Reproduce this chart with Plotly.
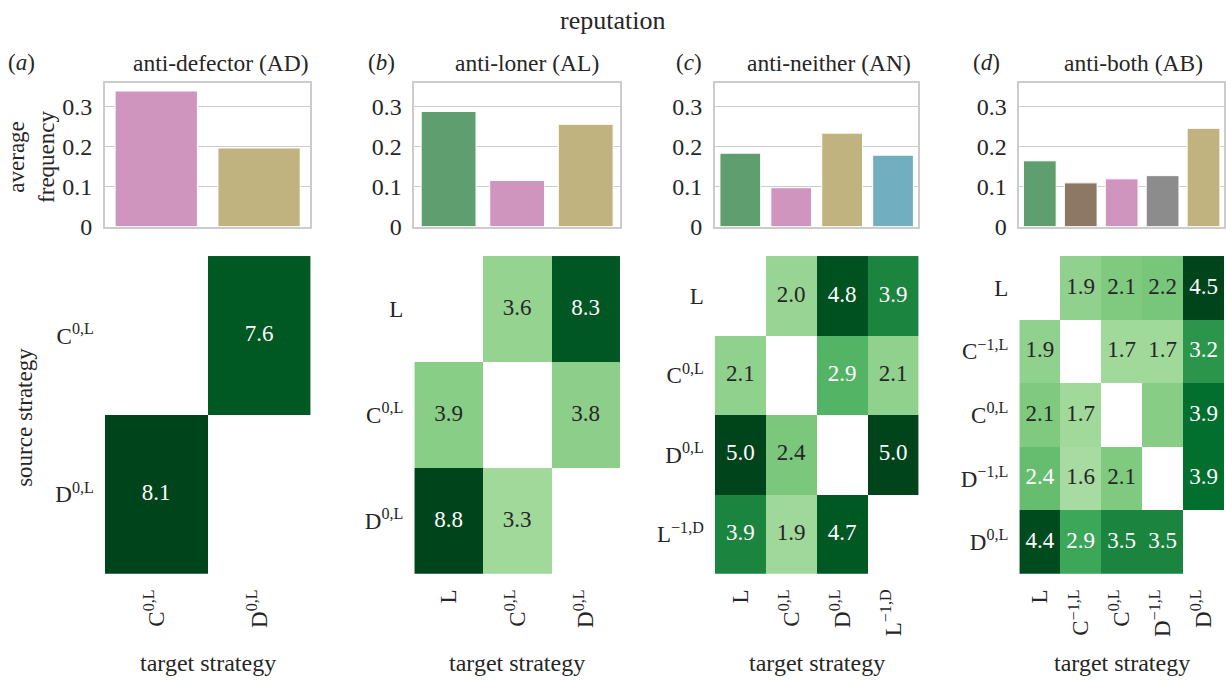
import math
import plotly.graph_objects as go

W, H = 1226, 683

# ---------------- data ----------------
panel_letters = ["a", "b", "c", "d"]
panel_titles = ["anti-defector (AD)", "anti-loner (AL)", "anti-neither (AN)", "anti-both (AB)"]

strat_a = ["C<sup>0,L</sup>", "D<sup>0,L</sup>"]
strat_b = ["L", "C<sup>0,L</sup>", "D<sup>0,L</sup>"]
strat_c = ["L", "C<sup>0,L</sup>", "D<sup>0,L</sup>", "L<sup>\u22121,D</sup>"]
strat_d = ["L", "C<sup>\u22121,L</sup>", "C<sup>0,L</sup>", "D<sup>\u22121,L</sup>", "D<sup>0,L</sup>"]

freq_a = [0.338, 0.196]
freq_b = [0.287, 0.115, 0.255]
freq_c = [0.183, 0.097, 0.233, 0.178]
freq_d = [0.164, 0.109, 0.119, 0.127, 0.245]

N = float("nan")
heat_a = [[N, 7.6],
          [8.1, N]]
heat_b = [[N, 3.6, 8.3],
          [3.9, N, 3.8],
          [8.8, 3.3, N]]
heat_c = [[N, 2.0, 4.8, 3.9],
          [2.1, N, 2.9, 2.1],
          [5.0, 2.4, N, 5.0],
          [3.9, 1.9, 4.7, N]]
heat_d = [[N, 1.9, 2.1, 2.2, 4.5],
          [1.9, N, 1.7, 1.7, 3.2],
          [2.1, 1.7, N, 2.0, 3.9],
          [2.4, 1.6, 2.1, N, 3.9],
          [4.4, 2.9, 3.5, 3.5, N]]
# cells whose number is not printed in the reference (row, col)
hidden_d = [(2, 3)]

strategy_colors = {
    "L": "#5f9e6e",
    "C<sup>\u22121,L</sup>": "#8d7866",
    "C<sup>0,L</sup>": "#d095bf",
    "D<sup>\u22121,L</sup>": "#8c8c8c",
    "D<sup>0,L</sup>": "#c1b37f",
    "L<sup>\u22121,D</sup>": "#71aec0",
}

strats = [strat_a, strat_b, strat_c, strat_d]
freqs = [freq_a, freq_b, freq_c, freq_d]
heats = [heat_a, heat_b, heat_c, heat_d]
hidden = [[], [], [], hidden_d]

# ---------------- style ----------------
FONT = "Liberation Serif"
TXT = "#262626"
greens = ["#f7fcf5", "#e5f5e0", "#c7e9c0", "#a1d99b", "#74c476",
          "#41ab5d", "#238b45", "#006d2c", "#00441b"]
colorscale = [[i / 8, c] for i, c in enumerate(greens)]

def hex2rgb(h):
    h = h.lstrip("#")
    return [int(h[i:i + 2], 16) for i in (0, 2, 4)]

def cmap(t):
    t = min(max(t, 0), 1) * 8
    i = min(int(t), 7)
    f = t - i
    a, b = hex2rgb(greens[i]), hex2rgb(greens[i + 1])
    return [a[k] + (b[k] - a[k]) * f for k in range(3)]

def lum(rgb):
    out = []
    for v in rgb:
        v = v / 255
        out.append(v / 12.92 if v <= 0.03928 else ((v + 0.055) / 1.055) ** 2.4)
    return 0.2126 * out[0] + 0.7152 * out[1] + 0.0722 * out[2]

# panel pixel geometry
panel_x = [(105, 311), (415, 621), (716, 920), (1021, 1226)]
bar_y = (85, 231)
heat_y = (261, 585)

def fx(px):
    return px / W

def fy(py):
    return 1 - py / H

fig = go.Figure()
layout = dict(
    width=W, height=H, autosize=False,
    margin=dict(l=0, r=0, t=0, b=0),
    paper_bgcolor="white", plot_bgcolor="white",
    showlegend=False,
    font=dict(family=FONT, size=22, color=TXT),
)
annotations = []

for p in range(4):
    bx = p + 1
    hx = p + 5
    x0, x1 = panel_x[p]
    cats = strats[p]
    # ---- bars ----
    fig.add_trace(go.Bar(
        x=cats, y=freqs[p],
        marker=dict(color=[strategy_colors[c] for c in cats],
                    line=dict(color="white", width=1)),
        width=0.8,
        xaxis=f"x{bx}", yaxis=f"y{bx}", hoverinfo="skip",
    ))
    layout[f"xaxis{bx}"] = dict(
        domain=[fx(x0), fx(x1)], anchor=f"y{bx}",
        type="category", categoryorder="array", categoryarray=cats,
        range=[-0.5, len(cats) - 0.5],
        showticklabels=False, ticks="", showgrid=False, zeroline=False,
        showline=True, linecolor="#cccccc", linewidth=1.5, mirror=True,
    )
    layout[f"yaxis{bx}"] = dict(
        domain=[fy(bar_y[1]), fy(bar_y[0])], anchor=f"x{bx}",
        range=[0, 0.357],
        tickvals=[0, 0.1, 0.2, 0.3], ticktext=["0", "0.1", "0.2", "0.3"],
        showgrid=True, gridcolor="#cccccc", gridwidth=1.2, zeroline=False,
        showline=True, linecolor="#cccccc", linewidth=1.5, mirror=True,
        ticks="", ticklabelstandoff=6,
        tickfont=dict(family=FONT, size=24, color=TXT),
    )
    # ---- heatmap ----
    z = heats[p]
    zmax = max(v for row in z for v in row if not math.isnan(v))
    fig.add_trace(go.Heatmap(
        z=z, x=cats, y=cats, colorscale=colorscale, zmin=0, zmax=zmax,
        showscale=False, xaxis=f"x{hx}", yaxis=f"y{hx}", hoverinfo="skip",
        xgap=0, ygap=0,
    ))
    tx, ty, tt, tc = [], [], [], []
    for i, row in enumerate(z):
        for j, v in enumerate(row):
            if math.isnan(v) or (i, j) in hidden[p]:
                continue
            tx.append(cats[j])
            ty.append(cats[i])
            tt.append(f"{v:.1f}")
            tc.append(TXT if lum(cmap(v / zmax)) > 0.408 else "white")
    fig.add_trace(go.Scatter(
        x=tx, y=ty, text=tt, mode="text",
        textfont=dict(family=FONT, size=23, color=tc),
        xaxis=f"x{hx}", yaxis=f"y{hx}", hoverinfo="skip",
    ))
    layout[f"xaxis{hx}"] = dict(
        domain=[fx(x0), fx(x1)], anchor=f"y{hx}",
        type="category", categoryorder="array", categoryarray=cats,
        range=[-0.5, len(cats) - 0.5],
        showgrid=False, zeroline=False, showline=False, ticks="",
        tickangle=-90, ticklabelstandoff=10,
        tickfont=dict(family=FONT, size=23, color=TXT),
    )
    layout[f"yaxis{hx}"] = dict(
        domain=[fy(heat_y[1]), fy(heat_y[0])], anchor=f"x{hx}",
        type="category", categoryorder="array", categoryarray=cats,
        range=[len(cats) - 0.5, -0.5],
        showgrid=False, zeroline=False, showline=False, ticks="",
        ticklabelstandoff=10,
        tickfont=dict(family=FONT, size=23, color=TXT),
    )
    # ---- titles ----
    letter_x = [22, 382, 690, 988][p]
    title_x = [221, 528, 830, 1135][p]
    annotations.append(dict(
        text=f"(<i>{panel_letters[p]}</i>)", x=fx(letter_x), y=fy(64),
        xref="paper", yref="paper", showarrow=False,
        xanchor="center", yanchor="middle",
        font=dict(family=FONT, size=23, color=TXT)))
    annotations.append(dict(
        text=panel_titles[p], x=fx(title_x), y=fy(64),
        xref="paper", yref="paper", showarrow=False,
        xanchor="center", yanchor="middle",
        font=dict(family=FONT, size=23.5, color=TXT)))
    annotations.append(dict(
        text="target strategy", x=fx((x0 + x1) / 2), y=fy(676),
        xref="paper", yref="paper", showarrow=False,
        xanchor="center", yanchor="middle",
        font=dict(family=FONT, size=24, color=TXT)))

annotations.append(dict(
    text="reputation", x=0.5, y=fy(21), xref="paper", yref="paper",
    showarrow=False, xanchor="center", yanchor="middle",
    font=dict(family=FONT, size=26, color=TXT)))
annotations.append(dict(
    text="average<br>frequency", x=fx(32), y=fy(160), xref="paper", yref="paper",
    showarrow=False, xanchor="center", yanchor="middle", textangle=-90,
    font=dict(family=FONT, size=23, color=TXT)))
annotations.append(dict(
    text="source strategy", x=fx(25), y=fy(425), xref="paper", yref="paper",
    showarrow=False, xanchor="center", yanchor="middle", textangle=-90,
    font=dict(family=FONT, size=23, color=TXT)))

layout["annotations"] = annotations
fig.update_layout(**layout)
fig.write_html(
    "out.html",
    config={"displayModeBar": False},
    post_script="document.body.style.margin='0';document.body.style.overflow='hidden';",
)
